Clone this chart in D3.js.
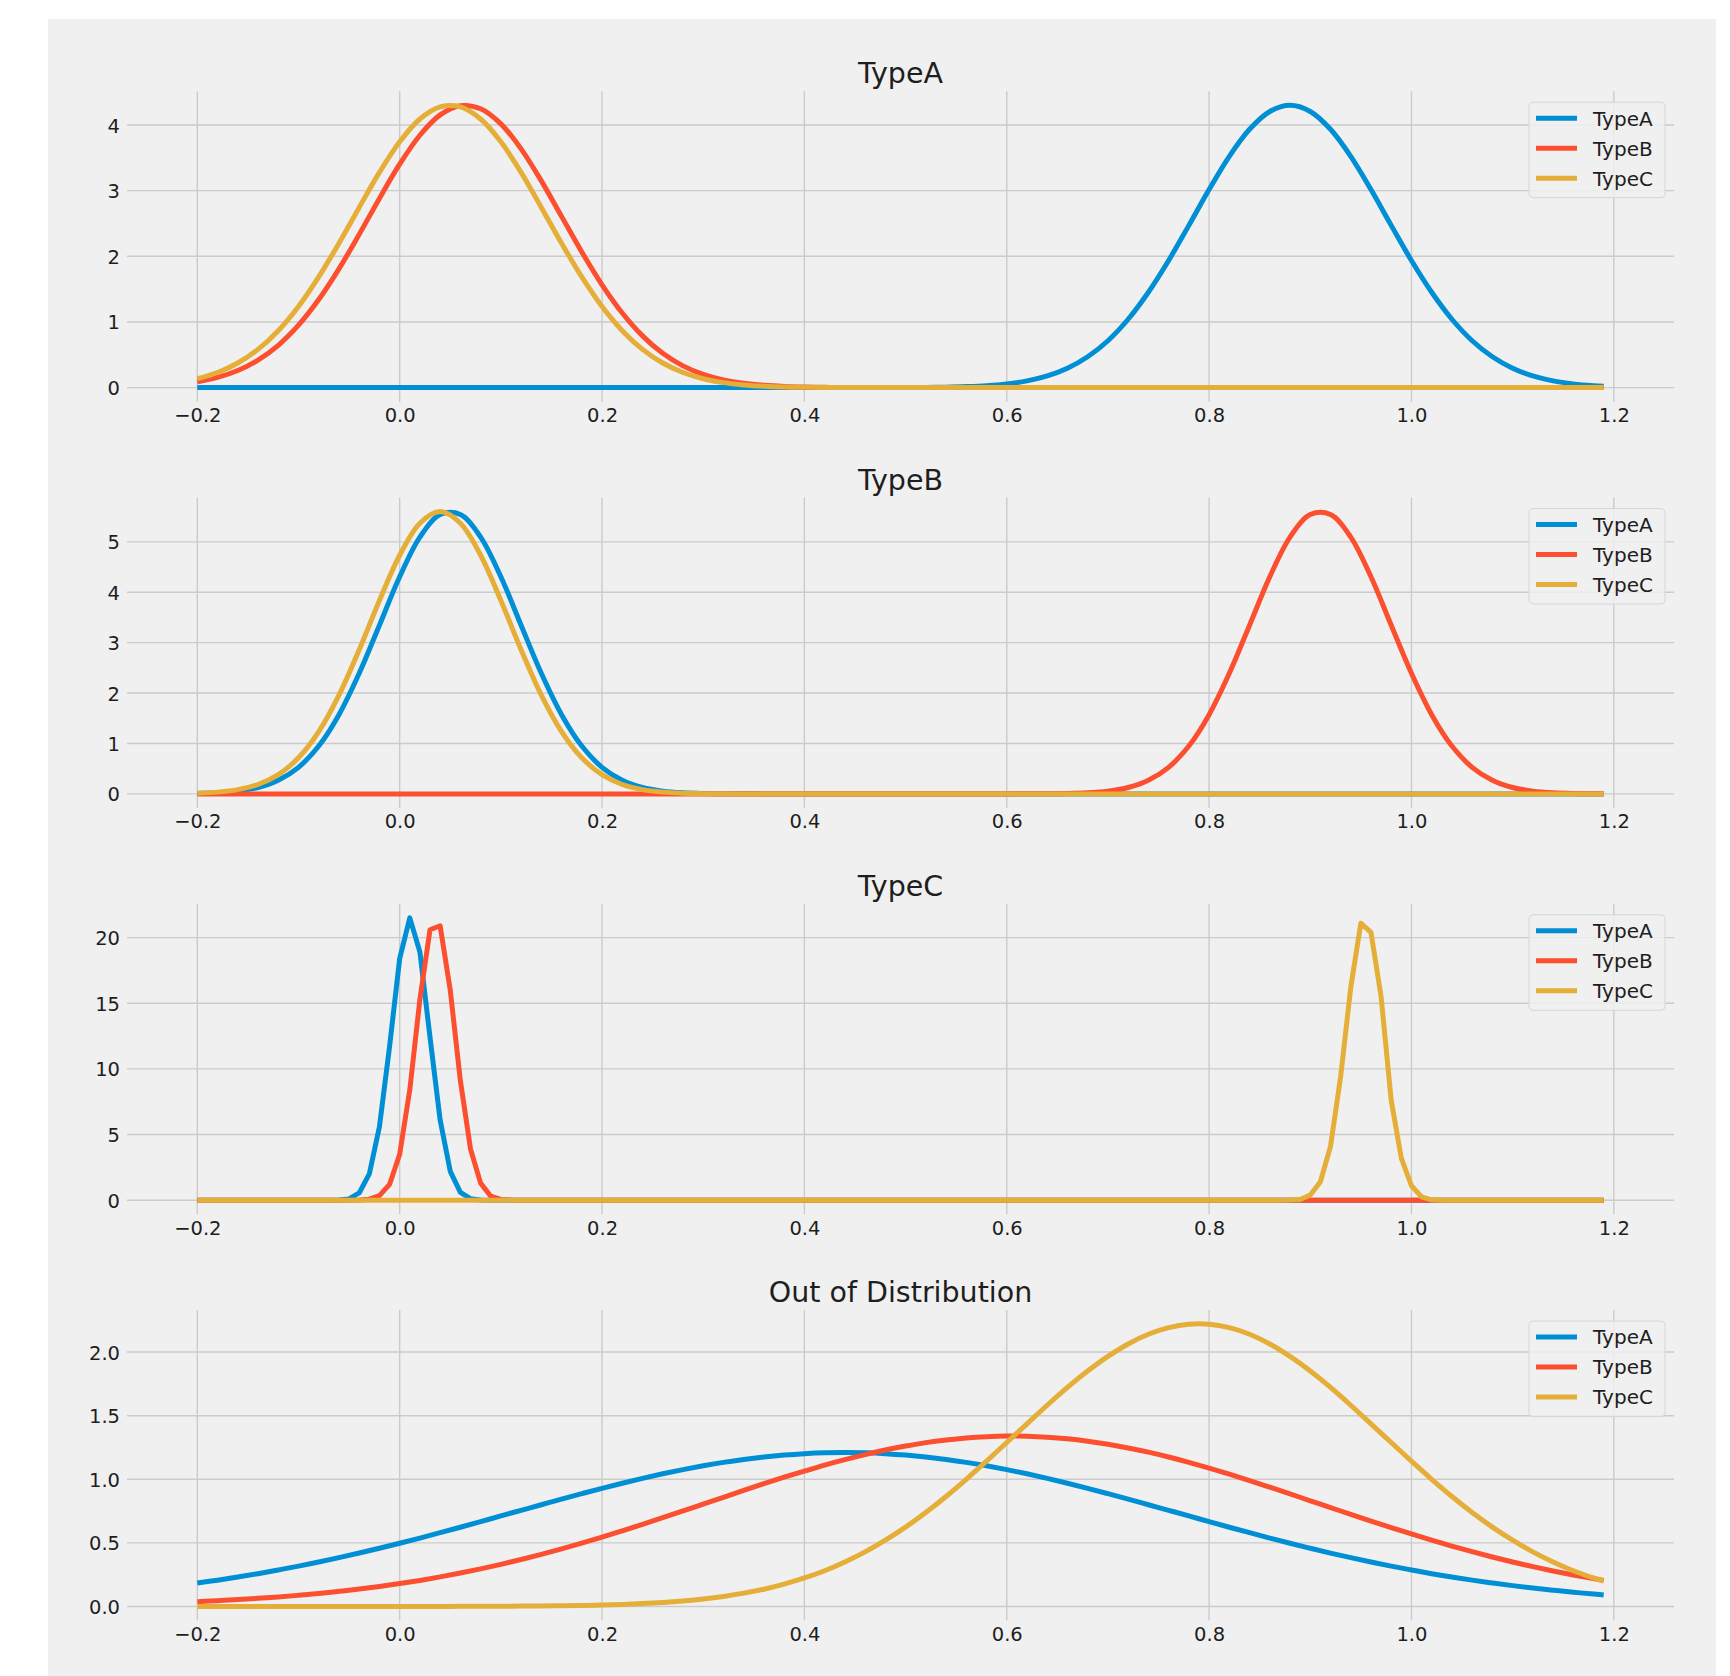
<!DOCTYPE html>
<html>
<head>
<meta charset="utf-8">
<script src="https://cdn.jsdelivr.net/npm/d3@7"></script>
<style>
html,body{margin:0;padding:0;background:#ffffff;}
svg{display:block;}
</style>
</head>
<body>
<svg id="chart" width="1730" height="1676"></svg>
<script>
// ---------------- DATA ----------------
const seriesNames = ["TypeA", "TypeB", "TypeC"];
const panelTitles = ["TypeA", "TypeB", "TypeC", "Out of Distribution"];
const xTicks = [-0.2, 0.0, 0.2, 0.4, 0.6, 0.8, 1.0, 1.2];
const yTicksTypeA = [0, 1, 2, 3, 4];
const yTicksTypeB = [0, 1, 2, 3, 4, 5];
const yTicksTypeC = [0, 5, 10, 15, 20];
const yTicksOOD = [0.0, 0.5, 1.0, 1.5, 2.0];

// x positions of the smooth curves (panels TypeA, TypeB, Out of Distribution)
const xSmooth = [
 -0.2,-0.18,-0.16,-0.14,-0.12,-0.1,-0.08,-0.06,-0.04,-0.02,
 0,0.02,0.04,0.06,0.08,0.1,0.12,0.14,0.16,0.18,
 0.2,0.22,0.24,0.26,0.28,0.3,0.32,0.34,0.36,0.38,
 0.4,0.42,0.44,0.46,0.48,0.5,0.52,0.54,0.56,0.58,
 0.6,0.62,0.64,0.66,0.68,0.7,0.72,0.74,0.76,0.78,
 0.8,0.82,0.84,0.86,0.88,0.9,0.92,0.94,0.96,0.98,
 1.0,1.02,1.04,1.06,1.08,1.1,1.12,1.14,1.16,1.18,
 1.19];

// x positions of the narrow peaks (panel TypeC)
const xFine = [
 -0.2,-0.19,-0.18,-0.17,-0.16,-0.15,-0.14,-0.13,-0.12,-0.11,
 -0.1,-0.09,-0.08,-0.07,-0.06,-0.05,-0.04,-0.03,-0.02,-0.01,
 0,0.01,0.02,0.03,0.04,0.05,0.06,0.07,0.08,0.09,
 0.1,0.11,0.12,0.13,0.14,0.15,0.16,0.17,0.18,0.19,
 0.2,0.21,0.22,0.23,0.24,0.25,0.26,0.27,0.28,0.29,
 0.3,0.31,0.32,0.33,0.34,0.35,0.36,0.37,0.38,0.39,
 0.4,0.41,0.42,0.43,0.44,0.45,0.46,0.47,0.48,0.49,
 0.5,0.51,0.52,0.53,0.54,0.55,0.56,0.57,0.58,0.59,
 0.6,0.61,0.62,0.63,0.64,0.65,0.66,0.67,0.68,0.69,
 0.7,0.71,0.72,0.73,0.74,0.75,0.76,0.77,0.78,0.79,
 0.8,0.81,0.82,0.83,0.84,0.85,0.86,0.87,0.88,0.89,
 0.9,0.91,0.92,0.93,0.94,0.95,0.96,0.97,0.98,0.99,
 1.0,1.01,1.02,1.03,1.04,1.05,1.06,1.07,1.08,1.09,
 1.1,1.11,1.12,1.13,1.14,1.15,1.16,1.17,1.18,1.19];

// Panel "TypeA"
const panelA_typeA = [
 0,0,0,0,0,0,0,0,0,0,
 0,0,0,0,0,0,0,0,0,0,
 0,0,0,0,0,0,0,0,0,0,
 0,0,0,0,0.001,0.001,0.003,0.007,0.015,0.029,
 0.056,0.102,0.177,0.295,0.469,0.714,1.041,1.452,1.936,2.471,
 3.016,3.523,3.935,4.206,4.3,4.206,3.935,3.523,3.016,2.471,
 1.936,1.452,1.041,0.714,0.469,0.295,0.177,0.102,0.056,0.029,
 0.021];
const panelA_typeB = [
 0.088,0.155,0.26,0.418,0.644,0.951,1.341,1.809,2.334,2.882,
 3.403,3.844,4.154,4.294,4.247,4.018,3.637,3.149,2.608,2.066,
 1.566,1.136,0.788,0.522,0.331,0.201,0.117,0.065,0.035,0.018,
 0.009,0.004,0.002,0.001,0,0,0,0,0,0,
 0,0,0,0,0,0,0,0,0,0,
 0,0,0,0,0,0,0,0,0,0,
 0,0,0,0,0,0,0,0,0,0,
 0];
const panelA_typeC = [
 0.135,0.23,0.374,0.582,0.867,1.236,1.686,2.199,2.745,3.278,
 3.744,4.091,4.276,4.276,4.091,3.744,3.278,2.745,2.199,1.686,
 1.236,0.867,0.582,0.374,0.23,0.135,0.076,0.041,0.021,0.01,
 0.005,0.002,0.001,0,0,0,0,0,0,0,
 0,0,0,0,0,0,0,0,0,0,
 0,0,0,0,0,0,0,0,0,0,
 0,0,0,0,0,0,0,0,0,0,
 0];

// Panel "TypeB"
const panelB_typeA = [
 0.008,0.022,0.055,0.126,0.269,0.527,0.949,1.572,2.392,3.347,
 4.307,5.095,5.541,5.541,5.095,4.307,3.347,2.392,1.572,0.949,
 0.527,0.269,0.126,0.055,0.022,0.008,0.003,0.001,0,0,
 0,0,0,0,0,0,0,0,0,0,
 0,0,0,0,0,0,0,0,0,0,
 0,0,0,0,0,0,0,0,0,0,
 0,0,0,0,0,0,0,0,0,0,
 0];
const panelB_typeB = [
 0,0,0,0,0,0,0,0,0,0,
 0,0,0,0,0,0,0,0,0,0,
 0,0,0,0,0,0,0,0,0,0,
 0,0,0,0,0,0,0,0,0,0,
 0,0.001,0.003,0.008,0.022,0.055,0.126,0.269,0.527,0.949,
 1.572,2.392,3.347,4.307,5.095,5.541,5.541,5.095,4.307,3.347,
 2.392,1.572,0.949,0.527,0.269,0.126,0.055,0.022,0.008,0.003,
 0.0015];
const panelB_typeC = [
 0.013,0.035,0.084,0.186,0.381,0.715,1.234,1.959,2.86,3.837,
 4.734,5.37,5.6,5.37,4.734,3.837,2.86,1.959,1.234,0.715,
 0.381,0.186,0.084,0.035,0.013,0.005,0.002,0,0,0,
 0,0,0,0,0,0,0,0,0,0,
 0,0,0,0,0,0,0,0,0,0,
 0,0,0,0,0,0,0,0,0,0,
 0,0,0,0,0,0,0,0,0,0,
 0];

// Panel "TypeC"
const panelC_typeA = [
 0,0,0,0,0,0,0,0,0,0,
 0,0,0,0,0.015,0.1,0.55,2.0,5.6,11.7,
 18.4,21.5,18.9,12.4,6.1,2.2,0.6,0.12,0.02,0,
 0,0,0,0,0,0,0,0,0,0,
 0,0,0,0,0,0,0,0,0,0,
 0,0,0,0,0,0,0,0,0,0,
 0,0,0,0,0,0,0,0,0,0,
 0,0,0,0,0,0,0,0,0,0,
 0,0,0,0,0,0,0,0,0,0,
 0,0,0,0,0,0,0,0,0,0,
 0,0,0,0,0,0,0,0,0,0,
 0,0,0,0,0,0,0,0,0,0,
 0,0,0,0,0,0,0,0,0,0,
 0,0,0,0,0,0,0,0,0,0];
const panelC_typeB = [
 0,0,0,0,0,0,0,0,0,0,
 0,0,0,0,0,0,0.02,0.08,0.35,1.2,
 3.5,8.4,15.3,20.6,20.9,16.0,9.1,3.9,1.3,0.3,
 0.06,0.01,0,0,0,0,0,0,0,0,
 0,0,0,0,0,0,0,0,0,0,
 0,0,0,0,0,0,0,0,0,0,
 0,0,0,0,0,0,0,0,0,0,
 0,0,0,0,0,0,0,0,0,0,
 0,0,0,0,0,0,0,0,0,0,
 0,0,0,0,0,0,0,0,0,0,
 0,0,0,0,0,0,0,0,0,0,
 0,0,0,0,0,0,0,0,0,0,
 0,0,0,0,0,0,0,0,0,0,
 0,0,0,0,0,0,0,0,0,0];
const panelC_typeC = [
 0,0,0,0,0,0,0,0,0,0,
 0,0,0,0,0,0,0,0,0,0,
 0,0,0,0,0,0,0,0,0,0,
 0,0,0,0,0,0,0,0,0,0,
 0,0,0,0,0,0,0,0,0,0,
 0,0,0,0,0,0,0,0,0,0,
 0,0,0,0,0,0,0,0,0,0,
 0,0,0,0,0,0,0,0,0,0,
 0,0,0,0,0,0,0,0,0,0,
 0,0,0,0,0,0,0,0,0,0,
 0,0,0,0,0,0,0,0,0.01,0.05,
 0.4,1.4,4.1,9.4,16.2,21.1,20.4,15.5,7.6,3.2,
 1.1,0.25,0.03,0,0,0,0,0,0,0,
 0,0,0,0,0,0,0,0,0,0];

// Panel "Out of Distribution"
const panelOOD_typeA = [
 0.185,0.207,0.232,0.258,0.287,0.317,0.35,0.384,0.42,0.458,
 0.497,0.538,0.58,0.623,0.667,0.712,0.756,0.8,0.844,0.887,
 0.929,0.969,1.007,1.043,1.076,1.106,1.133,1.156,1.175,1.19,
 1.201,1.208,1.21,1.208,1.201,1.19,1.175,1.156,1.133,1.106,
 1.076,1.043,1.007,0.969,0.929,0.887,0.844,0.8,0.756,0.712,
 0.667,0.623,0.58,0.538,0.497,0.458,0.42,0.384,0.35,0.317,
 0.287,0.258,0.232,0.207,0.185,0.164,0.145,0.128,0.112,0.098,
 0.091];
const panelOOD_typeB = [
 0.038,0.046,0.054,0.064,0.075,0.088,0.102,0.119,0.137,0.157,
 0.18,0.205,0.233,0.263,0.296,0.331,0.369,0.41,0.453,0.498,
 0.545,0.595,0.646,0.698,0.751,0.805,0.858,0.912,0.965,1.016,
 1.064,1.111,1.154,1.194,1.23,1.261,1.288,1.309,1.325,1.335,
 1.34,1.338,1.331,1.318,1.299,1.275,1.246,1.213,1.175,1.133,
 1.088,1.04,0.99,0.938,0.885,0.831,0.778,0.724,0.672,0.62,
 0.57,0.521,0.475,0.431,0.389,0.35,0.313,0.279,0.248,0.219,
 0.205];
const panelOOD_typeC = [
 0,0,0,0,0,0,0,0,0,0.0001,
 0.0002,0.0003,0.0005,0.001,0.001,0.002,0.003,0.004,0.006,0.008,
 0.012,0.016,0.023,0.032,0.044,0.059,0.079,0.105,0.136,0.176,
 0.224,0.281,0.35,0.429,0.521,0.624,0.739,0.865,1.0,1.142,
 1.289,1.436,1.582,1.722,1.851,1.966,2.064,2.14,2.192,2.219,
 2.219,2.192,2.14,2.064,1.966,1.851,1.722,1.582,1.436,1.289,
 1.142,1.0,0.865,0.739,0.624,0.521,0.429,0.35,0.281,0.224,
 0.199];

// ---------------- DRAWING ----------------
const colors = ["#008fd5", "#fc4f30", "#e5ae38"];
const FONT = "DejaVu Sans";
const TEXT = "#1e1e1e";

const smoothCurve = d3.curveCatmullRom.alpha(0.5);
const panels = [
  {title: panelTitles[0], xs: xSmooth, series: [panelA_typeA, panelA_typeB, panelA_typeC], yTicks: yTicksTypeA, fmt: d3.format("d"), curve: smoothCurve},
  {title: panelTitles[1], xs: xSmooth, series: [panelB_typeA, panelB_typeB, panelB_typeC], yTicks: yTicksTypeB, fmt: d3.format("d"), curve: smoothCurve},
  {title: panelTitles[2], xs: xFine,   series: [panelC_typeA, panelC_typeB, panelC_typeC], yTicks: yTicksTypeC, fmt: d3.format("d"), curve: d3.curveLinear},
  {title: panelTitles[3], xs: xSmooth, series: [panelOOD_typeA, panelOOD_typeB, panelOOD_typeC], yTicks: yTicksOOD, fmt: d3.format(".1f"), curve: smoothCurve}
];

panels.forEach(p => p.series.forEach((s, j) => {
  if (s.length !== p.xs.length) throw new Error(p.title + " series " + j + " length " + s.length + " vs " + p.xs.length);
}));

const svg = d3.select("#chart");
svg.append("rect").attr("x", 48).attr("y", 19).attr("width", 1668).attr("height", 1657).attr("fill", "#f0f0f0");

const left = 127, right = 1674;
const xExt = d3.extent(xSmooth.concat(xFine));
const xPad = (xExt[1] - xExt[0]) * 0.05;
const x = d3.scaleLinear().domain([xExt[0] - xPad, xExt[1] + xPad]).range([left, right]);

const firstTop = 91.2, step = 406.3, panelH = 310.5;

panels.forEach((p, k) => {
  const top = firstTop + step * k;
  const bottom = top + panelH;
  const ext = d3.extent(p.series.flat());
  const yPad = (ext[1] - ext[0]) * 0.05;
  const y = d3.scaleLinear().domain([ext[0] - yPad, ext[1] + yPad]).range([bottom, top]);

  const g = svg.append("g");

  // grid
  g.append("g").selectAll("line").data(xTicks).join("line")
    .attr("x1", d => x(d)).attr("x2", d => x(d))
    .attr("y1", top).attr("y2", bottom)
    .attr("stroke", "#cbcbcb").attr("stroke-width", 1.4);
  g.append("g").selectAll("line").data(p.yTicks).join("line")
    .attr("x1", left).attr("x2", right)
    .attr("y1", d => y(d)).attr("y2", d => y(d))
    .attr("stroke", "#cbcbcb").attr("stroke-width", 1.4);

  // axes labels
  const xa = g.append("g").attr("transform", `translate(0,${bottom})`)
    .call(d3.axisBottom(x).tickValues(xTicks).tickFormat(d3.format(".1f")).tickSize(0).tickPadding(6.5));
  xa.select(".domain").remove();
  xa.attr("font-family", FONT).attr("font-size", 19.5).style("color", TEXT);

  const ya = g.append("g").attr("transform", `translate(${left},0)`)
    .call(d3.axisLeft(y).tickValues(p.yTicks).tickFormat(p.fmt).tickSize(0).tickPadding(7));
  ya.select(".domain").remove();
  ya.attr("font-family", FONT).attr("font-size", 19.5).style("color", TEXT);
  ya.selectAll("text").attr("dy", "0.36em");

  // series
  const line = d3.line().x((d, i) => x(p.xs[i])).y(d => y(d)).curve(p.curve);
  p.series.forEach((s, j) => {
    g.append("path").datum(s)
      .attr("d", line)
      .attr("fill", "none")
      .attr("stroke", colors[j])
      .attr("stroke-width", 5)
      .attr("stroke-linejoin", "round")
      .attr("stroke-linecap", "butt");
  });

  // title
  g.append("text")
    .attr("x", (left + right) / 2).attr("y", top - 8)
    .attr("text-anchor", "middle")
    .attr("font-family", FONT).attr("font-size", 28.5)
    .attr("fill", TEXT)
    .text(p.title);

  // legend
  const lg = g.append("g");
  lg.append("rect")
    .attr("x", 1529).attr("y", top + 11).attr("width", 136).attr("height", 95.5)
    .attr("rx", 4)
    .attr("fill", "#f0f0f0").attr("fill-opacity", 0.85)
    .attr("stroke", "#d6d6d6").attr("stroke-width", 1);
  seriesNames.forEach((n, j) => {
    const yy = top + 27 + 30 * j;
    lg.append("line")
      .attr("x1", 1536).attr("x2", 1577).attr("y1", yy).attr("y2", yy)
      .attr("stroke", colors[j]).attr("stroke-width", 5);
    lg.append("text")
      .attr("x", 1593).attr("y", yy + 7.3)
      .attr("font-family", FONT).attr("font-size", 20)
      .attr("fill", TEXT)
      .text(n);
  });
});
</script>
</body>
</html>
